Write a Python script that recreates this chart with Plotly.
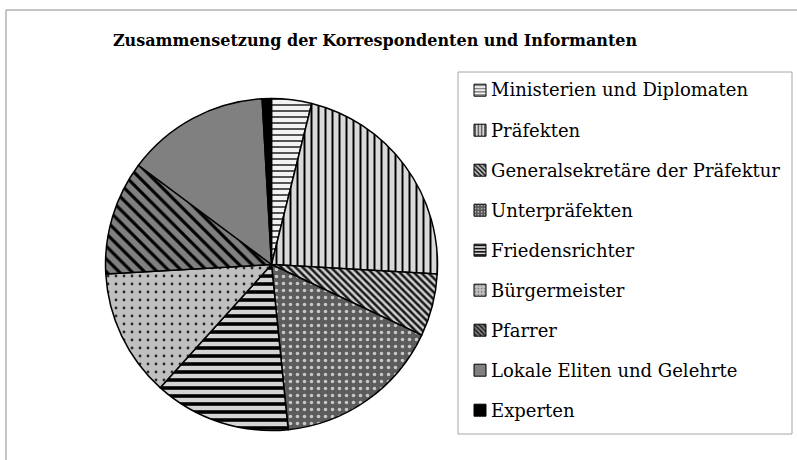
import plotly.graph_objects as go

# ---- data ----
categories = [
    "Ministerien und Diplomaten",
    "Präfekten",
    "Generalsekretäre der Präfektur",
    "Unterpräfekten",
    "Friedensrichter",
    "Bürgermeister",
    "Pfarrer",
    "Lokale Eliten und Gelehrte",
    "Experten",
]
shares = [3.9, 22.0, 6.1, 16.4, 13.3, 12.4, 11.1, 13.9, 0.9]

title_text = "Zusammensetzung der Korrespondenten und Informanten"

# ---- styles ----
bg_colors = ["#f2f2f2", "#d9d9d9", "#d0d0d0", "#5c5c5c", "#d4d4d4",
             "#c0c0c0", "#808080", "#808080", "#000000"]
fg_colors = ["#000000", "#000000", "#1a1a1a", "#c8c8c8", "#000000",
             "#2a2a2a", "#000000", "#808080", "#000000"]
shapes_pat = ["-", "|", "\\", ".", "-", ".", "\\", "", ""]
sizes_pat = [6, 7, 5, 7, 8, 8, 9, 8, 8]
solid_pat = [0.22, 0.28, 0.5, 0.2, 0.45, 0.1, 0.35, 0.3, 0.3]

W, H = 797, 460
cx, cy, R = 271.5, 264.5, 166

font_family = "DejaVu Serif"

# legend geometry (pixels)
leg_left, leg_right, leg_top, leg_bottom = 458, 792, 72, 434
first_item_y, item_step = 90, 40.1
text_x = 489
legend_font = 18

fig = go.Figure()

fig.add_trace(go.Pie(
    labels=categories,
    values=shares,
    sort=False,
    direction="clockwise",
    rotation=0,
    textinfo="none",
    hoverinfo="label+percent",
    showlegend=False,
    domain=dict(x=[(cx - R) / W, (cx + R) / W],
                y=[1 - (cy + R) / H, 1 - (cy - R) / H]),
    marker=dict(
        colors=bg_colors,
        line=dict(color="#000000", width=1.5),
        pattern=dict(shape=shapes_pat, bgcolor=bg_colors, fgcolor=fg_colors,
                     size=sizes_pat, solidity=solid_pat, fillmode="replace"),
    ),
))

# legend swatches (dummy bars give patterned swatches with adjustable spacing)
for i, name in enumerate(categories):
    fig.add_trace(go.Bar(
        x=[0], y=[None], name=" ", legendgroup=f"g{i}", showlegend=True,
        marker=dict(color=bg_colors[i], line=dict(color="#000000", width=1),
                    pattern=dict(shape=shapes_pat[i], bgcolor=bg_colors[i],
                                 fgcolor=fg_colors[i], size=4,
                                 solidity=solid_pat[i], fillmode="replace")),
        hoverinfo="skip",
    ))

# legend labels
annotations = []
for i, name in enumerate(categories):
    annotations.append(dict(
        text=name, xref="paper", yref="paper",
        x=text_x / W, y=1 - (first_item_y + i * item_step) / H,
        xanchor="left", yanchor="middle", showarrow=False,
        font=dict(family=font_family, size=legend_font, color="#000000"),
    ))

fig.update_layout(
    width=W, height=H,
    margin=dict(l=0, r=0, t=0, b=0),
    paper_bgcolor="#ffffff",
    plot_bgcolor="rgba(0,0,0,0)",
    title=dict(text=f"<b>{title_text}</b>", x=375 / W, xanchor="center",
               y=1 - 40 / H, yanchor="middle",
               font=dict(family=font_family, size=16, color="#000000")),
    xaxis=dict(visible=False, domain=[0, 0.001]),
    yaxis=dict(visible=False, domain=[0, 0.001]),
    legend=dict(
        x=(leg_left + 2) / W, y=1 - leg_top / H, xanchor="left", yanchor="top",
        font=dict(family=font_family, size=legend_font, color="#000000"),
        borderwidth=0, bgcolor="rgba(0,0,0,0)",
        traceorder="grouped", tracegroupgap=13.6, itemwidth=30,
    ),
    annotations=annotations,
    shapes=[
        dict(type="rect", xref="paper", yref="paper",
             x0=6 / W, x1=1.05, y0=-0.05, y1=1 - 10 / H,
             line=dict(color="#8c8c8c", width=1), layer="below"),
        dict(type="rect", xref="paper", yref="paper",
             x0=leg_left / W, x1=leg_right / W,
             y0=1 - leg_bottom / H, y1=1 - leg_top / H,
             line=dict(color="#a6a6a6", width=1), layer="below"),
    ],
    showlegend=True,
)

fig.write_html("out.html")
